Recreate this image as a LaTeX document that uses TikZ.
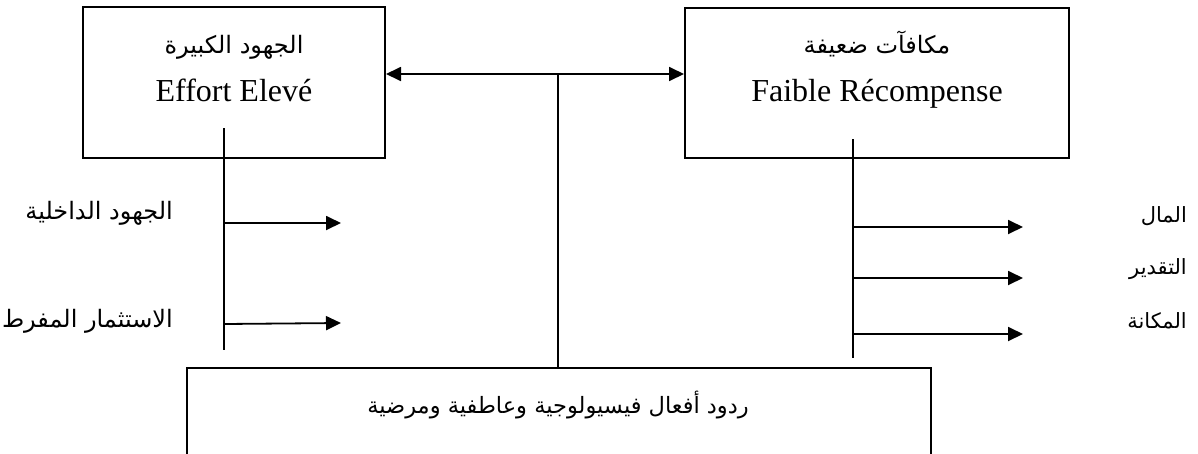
\documentclass[tikz,border=0pt]{standalone}
\usepackage{fontspec}
\setmainfont{Liberation Serif}
\newfontfamily\arabicfont[Script=Arabic]{DejaVu Sans}
\TeXXeTstate=1
\usetikzlibrary{arrows.meta}

\newcommand{\ar}[1]{{\arabicfont\beginR #1\endR}}

\tikzset{
  boxframe/.style={draw, line width=2pt, inner sep=0pt},
  latext/.style={font=\fontsize{32}{36}\selectfont, inner sep=0pt, anchor=base},
  boxar/.style={font=\fontsize{24}{28}\selectfont, inner sep=0pt, anchor=base},
  sidear/.style={font=\fontsize{#1}{26}\selectfont, inner sep=0pt, anchor=base east},
  stem/.style={line width=1.8pt},
  branch/.style={line width=1.8pt, -{Triangle[length=15pt,width=14pt]}},
  both/.style={line width=1.8pt, {Triangle[length=15pt,width=14pt]}-{Triangle[length=15pt,width=14pt]}}
}

\begin{document}
\begin{tikzpicture}[x=1pt,y=-1pt]
\useasboundingbox (0,0) rectangle (1198,453);
\clip (0,0) rectangle (1198,453);

% upper boxes
\node[boxframe, minimum width=302pt, minimum height=151pt] (effort) at (234,82.5) {};
\node[boxframe, minimum width=384pt, minimum height=150pt] (reward) at (877,83) {};
\node[boxar] (effortAr) at (234,53) {\ar{الجهود الكبيرة}};
\node[latext] (effortFr) at (234,101) {Effort Elevé};
\node[boxar] (rewardAr) at (877,53) {\ar{مكافآت ضعيفة}};
\node[latext] (rewardFr) at (877,101) {Faible Récompense};

% lower box, its bottom edge at the lower border of the picture
\node[boxframe, anchor=north west, minimum width=744pt, minimum height=86.6pt] (reaction) at (186,367) {};
\node[font=\fontsize{22.5}{26}\selectfont, inner sep=0pt, anchor=base] (reactionAr) at (558,413) {\ar{ردود أفعال فيسيولوجية وعاطفية ومرضية}};

% link between the two upper boxes and the stem to the lower box
\coordinate (mid) at (558,74);
\draw[both] (effort.east |- mid) -- (reward.west |- mid);
\draw[stem] (mid) -- (mid |- reaction.north);

% effort branches
\coordinate (eTop) at (224,128);
\coordinate (eBot) at (224,350);
\draw[stem] (eTop) -- (eBot);
\coordinate (e1) at (224,223);
\coordinate (e1t) at (341,223);
\coordinate (e2) at (224,324);
\coordinate (e2t) at (341,323);
\draw[branch] (e1) -- (e1t);
\draw[branch] (e2) -- (e2t);
\node[sidear=24] (eLab1) at (173,219) {\ar{الجهود الداخلية}};
\node[sidear=24] (eLab2) at (173,327) {\ar{الاستثمار المفرط}};

% reward branches
\coordinate (rTop) at (853,139);
\coordinate (rBot) at (853,358);
\draw[stem] (rTop) -- (rBot);
\coordinate (r1) at (853,227);
\coordinate (r1t) at (1023,227);
\coordinate (r2) at (853,278);
\coordinate (r2t) at (1023,278);
\coordinate (r3) at (853,334);
\coordinate (r3t) at (1023,334);
\draw[branch] (r1) -- (r1t);
\draw[branch] (r2) -- (r2t);
\draw[branch] (r3) -- (r3t);
\node[sidear=21] (rLab1) at (1187,222) {\ar{المال}};
\node[sidear=21] (rLab2) at (1187,274) {\ar{التقدير}};
\node[sidear=21] (rLab3) at (1187,328) {\ar{المكانة}};
\end{tikzpicture}
\end{document}
